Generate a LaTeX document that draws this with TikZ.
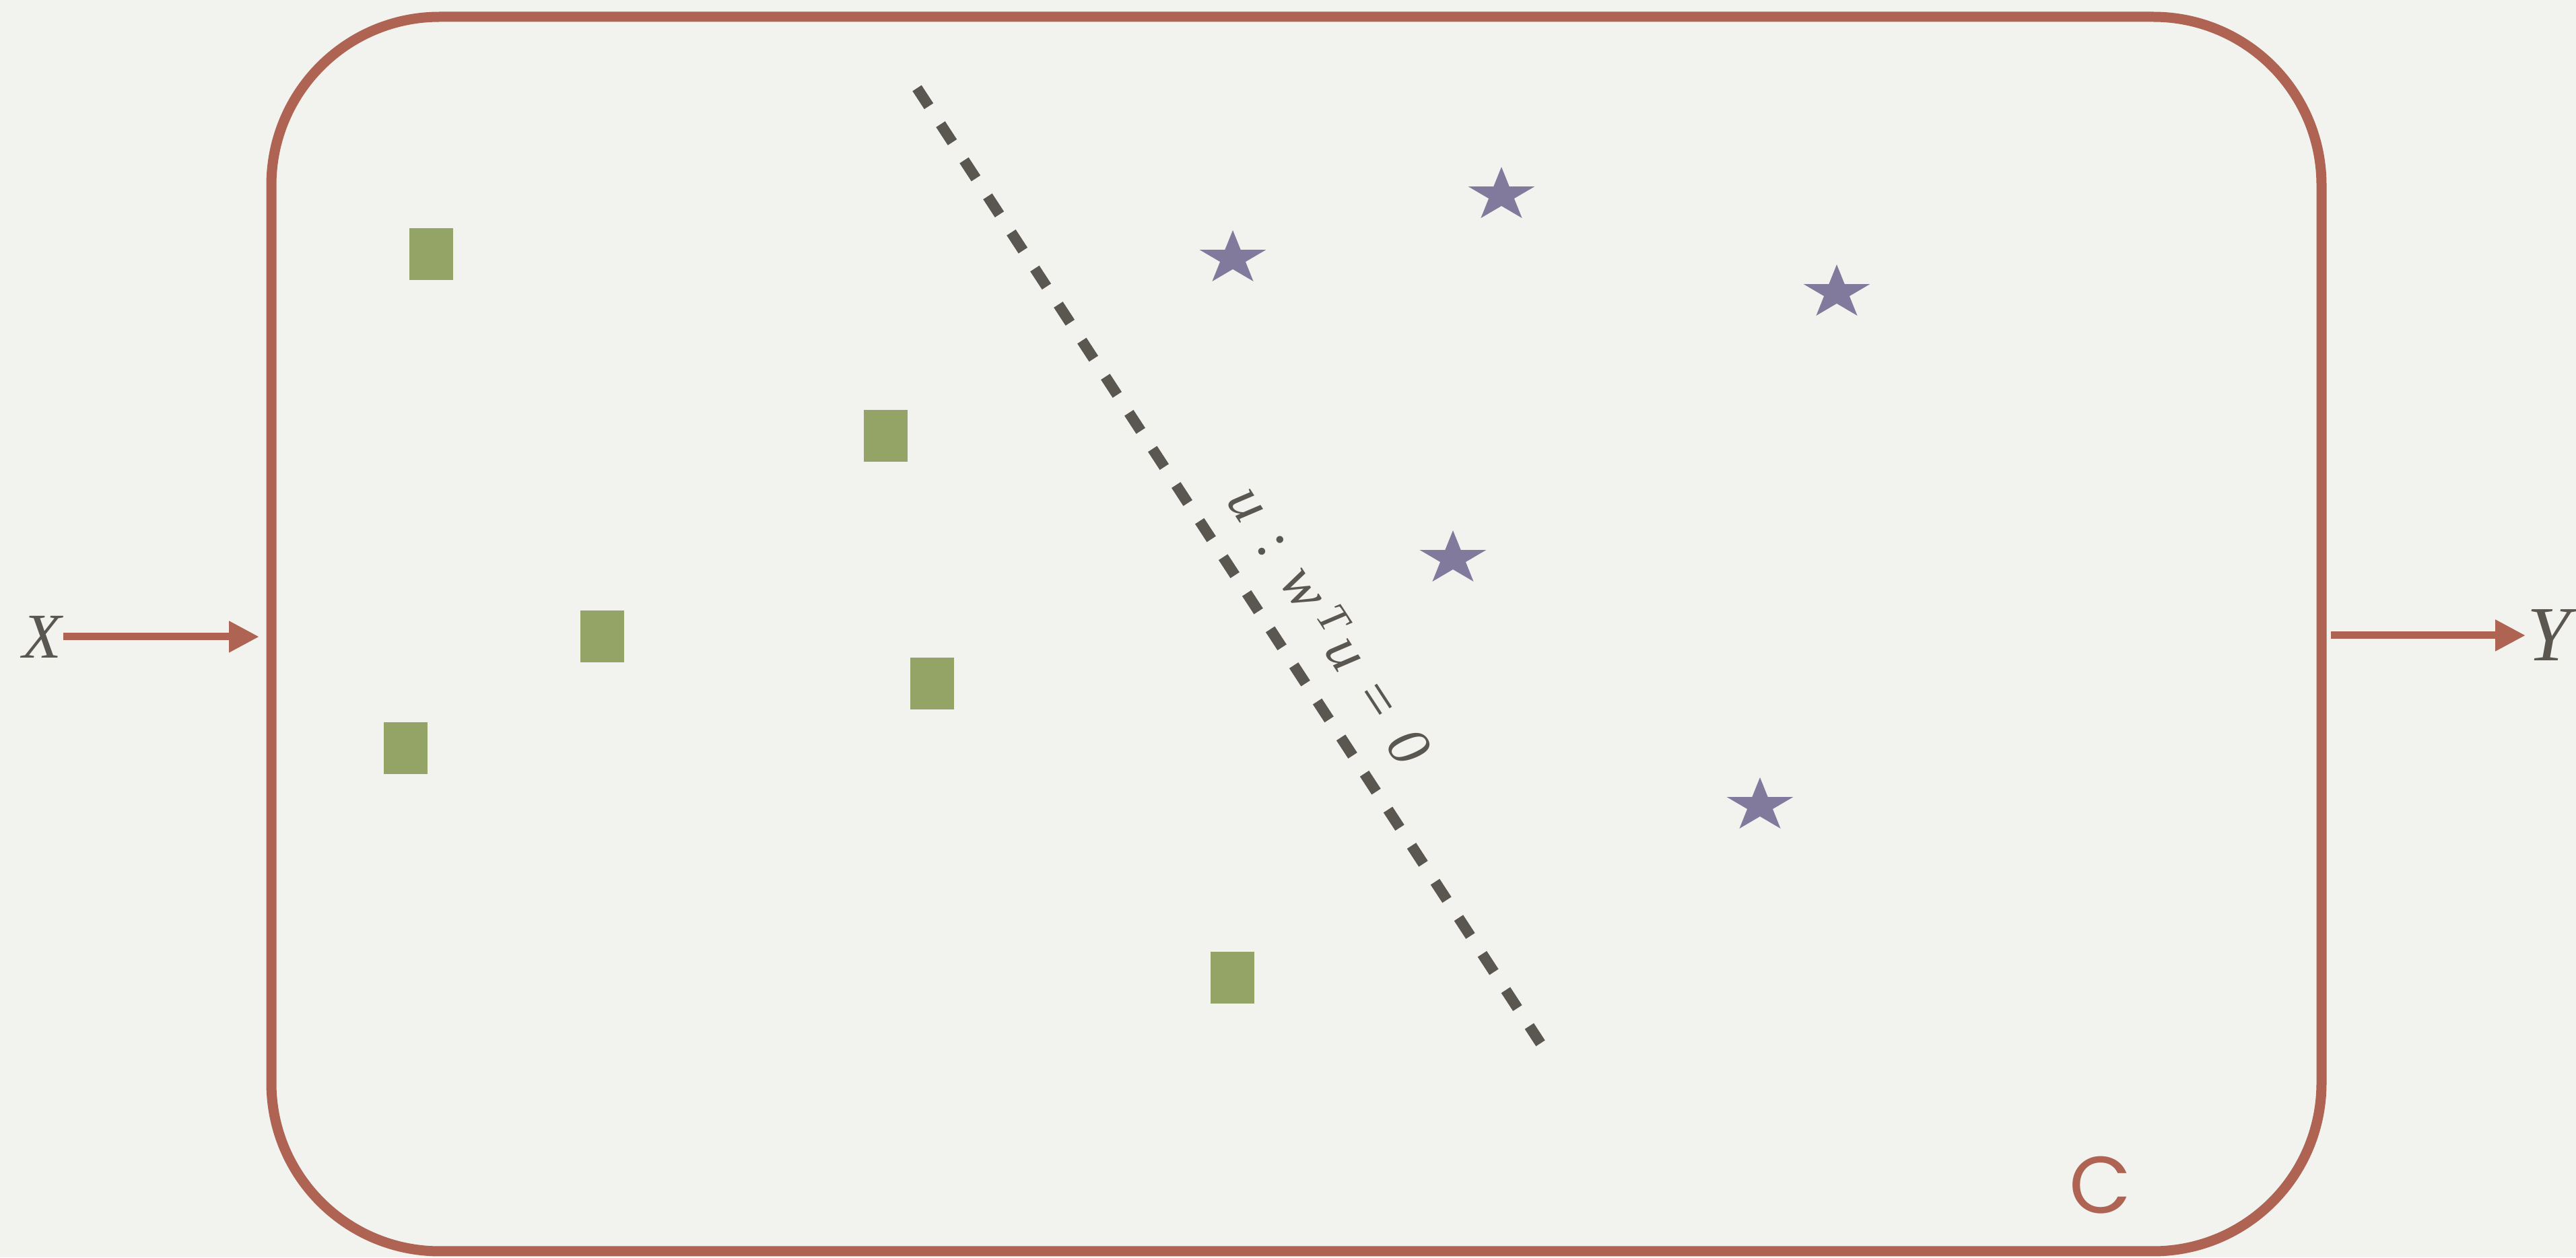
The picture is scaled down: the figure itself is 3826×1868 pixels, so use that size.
\documentclass[tikz,border=0pt]{standalone}
\usepackage{fontspec}
\newfontfamily\cfont{Poppins}
\newfontfamily\lserif{Liberation Serif}
\usetikzlibrary{arrows.meta}
\definecolor{paper}{HTML}{F2F2EE}
\definecolor{brd}{HTML}{AE6353}
\definecolor{ink}{HTML}{5A5751}
\definecolor{sqcol}{HTML}{93A466}
\definecolor{stcol}{HTML}{827A9C}
\tikzset{
  sqmark/.style={fill=sqcol, inner sep=0pt, minimum width=6.5mm, minimum height=7.7mm},
  starmark/.pic={\fill[stcol] (90:5.2mm and 4.2mm) -- (126:1.99mm and 1.6mm)
     -- (162:5.2mm and 4.2mm) -- (198:1.99mm and 1.6mm)
     -- (234:5.2mm and 4.2mm) -- (270:1.99mm and 1.6mm)
     -- (306:5.2mm and 4.2mm) -- (342:1.99mm and 1.6mm)
     -- (18:5.2mm and 4.2mm) -- (54:1.99mm and 1.6mm) -- cycle;},
  flow/.style={draw=brd, line width=1.1mm, -{Triangle[length=4.5mm, width=4.4mm]}},
  hyper/.style={draw=ink, line width=1.6mm, dash pattern=on 3.2mm off 3.2mm},
  lettr/.style={text=ink, inner sep=0pt}
}
\newcommand{\gapsp}{\hspace{0.42em}}
\begin{document}
\begin{tikzpicture}[x=0.1mm, y=0.1mm]
\fill[paper] (0,0) rectangle (3826,1868);
\useasboundingbox (0,0) rectangle (3826,1868);

% classifier box
\node[draw=brd, line width=1.5mm, rounded corners=25mm, minimum width=304.5mm,
      minimum height=183.4mm, inner sep=0pt] (box) at (1925.5,926) {};
\node[text=brd, inner sep=0pt, font=\cfont\fontsize{34}{40}\selectfont] (clabel) at (3120,107) {C};

% input / output
\node[lettr, font=\lserif\itshape\fontsize{27}{32}\selectfont] (X) at (62,922) {X};
\node[lettr, font=\lserif\itshape\fontsize{33}{38}\selectfont] (Y) at (3786,924) {Y};
\draw[flow, shorten <=0.2mm, shorten >=1.05mm] (X.east) -- (X.east -| box.west);
\draw[flow, shorten <=0.65mm, shorten >=0.2mm] (box.east |- Y.west) -- (Y.west);

% separating hyperplane
\coordinate (d1) at (1362,1737);
\coordinate (d2) at (2288,318);
\draw[hyper] (d1) -- (d2);
\node[lettr, rotate=-56.9, font=\lserif\fontsize{25}{30}\selectfont] (eq) at (1975,940)
  {\textit{u}\gapsp:\gapsp\textit{w}\,\raisebox{0.2em}{\fontsize{18}{22}\selectfont\itshape T}\,\textit{u}\gapsp=\gapsp\textit{0}};

% class A (squares)
\node[sqmark] (s1) at (640,1490) {};
\node[sqmark] (s2) at (1315,1220) {};
\node[sqmark] (s3) at (894,922) {};
\node[sqmark] (s4) at (1384,852) {};
\node[sqmark] (s5) at (602,756) {};
\node[sqmark] (s6) at (1830,415) {};

% class B (stars)
\pic (t1) at (1831,1484) {starmark};
\pic (t2) at (2230,1578) {starmark};
\pic (t3) at (2728,1433) {starmark};
\pic (t4) at (2158,1038) {starmark};
\pic (t5) at (2614,671) {starmark};
\end{tikzpicture}
\end{document}
